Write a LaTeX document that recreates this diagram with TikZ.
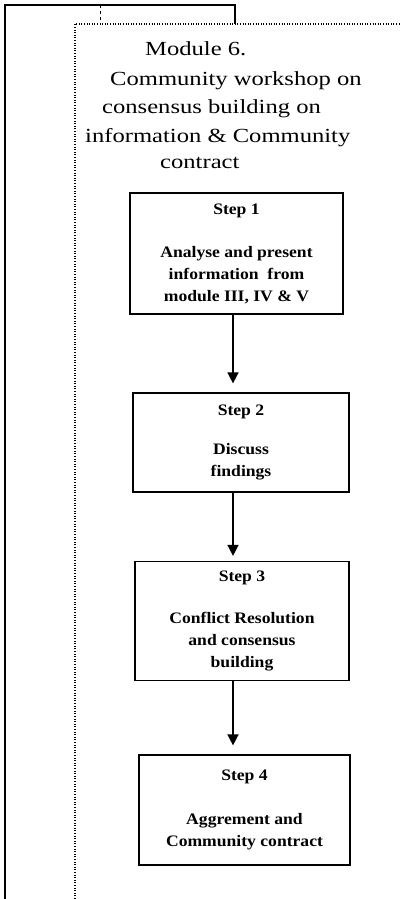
\documentclass[tikz,border=0pt]{standalone}
\usepackage{fontspec}
\setmainfont{Liberation Serif}
\newfontfamily\titlefont[FakeStretch=1.23]{Liberation Serif}
\newfontfamily\stepfont[FakeStretch=1.1]{Liberation Serif}
\usetikzlibrary{arrows.meta}

\begin{document}
\begin{tikzpicture}[x=1pt,y=-1pt,
    stepbox/.style={draw, line width=1.2pt, align=center, inner sep=0pt,
      font=\stepfont\bfseries\fontsize{16}{22}\selectfont},
    titleline/.style={anchor=base west, inner sep=0pt,
      font=\titlefont\fontsize{20}{24}\selectfont},
    flow/.style={-{Triangle[length=11pt,width=11pt]}, line width=1.5pt, shorten >=9pt}]
        \useasboundingbox (0,0) rectangle (399,899);

        %Outer frame
        \draw [line width=1.4pt] (5,899) -- (5,5) -- (235,5) -- (235,24) ;
        \draw [dashed, line width=0.8pt] (100,5) -- (100,24) ;
        %Dotted frame of module 6
        \draw [line width=1.2pt, dash pattern=on 1pt off 1.6pt] (75,899) -- (75,24) -- (399,24) ;

        % Title
        \node [titleline] (t1) at (145,56) {Module 6.};
        \node [titleline] (t2) at (110,85) {Community workshop on};
        \node [titleline] (t3) at (102,113) {consensus building on};
        \node [titleline] (t4) at (85,142) {information \& Community};
        \node [titleline] (t5) at (160,168) {contract};

        % Steps
        \node [stepbox, minimum width=213, minimum height=121] (s1) at (236.5,253.5)
          {Step 1\\[21pt]Analyse and present\\information~ from\\module III, IV \& V};
        \node [stepbox, minimum width=216, minimum height=99] (s2) at (241,442.5)
          {Step 2\\[17pt]Discuss\\findings};
        \node [stepbox, minimum width=214, minimum height=119] (s3) at (242,621)
          {Step 3\\[20pt]Conflict Resolution\\and consensus\\building};
        \node [stepbox, minimum width=211, minimum height=110] (s4) at (244.5,810)
          {Step 4\\[22pt]Aggrement and\\Community contract};

        % Arrows
        \draw [flow] ([xshift=-3.5pt]s1.south) -- ([xshift=-3.5pt]s1.south |- s2.north) ;
        \draw [flow, shorten >=5pt] ([xshift=-8pt]s2.south) -- ([xshift=-8pt]s2.south |- s3.north) ;
        \draw [flow] ([xshift=-9pt]s3.south) -- ([xshift=-9pt]s3.south |- s4.north) ;

    \end{tikzpicture}
\end{document}
